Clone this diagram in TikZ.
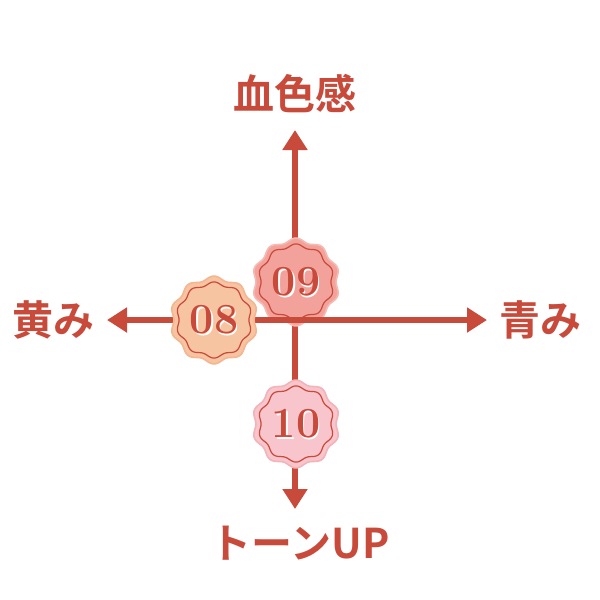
\documentclass[tikz,border=0pt]{standalone}
\usepackage{fontspec}
\newfontfamily\cjk{Noto Sans CJK JP Bold}
\usetikzlibrary{arrows.meta}
\definecolor{axred}{HTML}{C84A3B}
\definecolor{fnine}{HTML}{F2A29A}
\definecolor{rnine}{HTML}{F6BAB3}
\definecolor{feight}{HTML}{F7C4A1}
\definecolor{reight}{HTML}{F3B690}
\definecolor{ften}{HTML}{F7C5CB}
\definecolor{rten}{HTML}{F2B3BB}
\tikzset{
  axis/.style={line width=2.6pt, color=axred, -{Triangle[width=12pt,length=10pt]}},
  lbl/.style={text=axred, font=\cjk\fontsize{20.5}{20.5}\selectfont, inner sep=0pt},
  num/.style={font=\bfseries\fontsize{21.5}{21.5}\selectfont, inner sep=0pt},
}
\newcommand{\badge}[5]{% name, cx, cy, fill, rim
  \filldraw[fill=#4, draw=#5, line width=0.8pt] plot[domain=0:360, samples=241, smooth cycle] ({#2+(42-1.9*cos(10*\x))*cos(\x)},{#3+(42-1.9*cos(10*\x))*sin(\x)});
  \draw[axred, line width=0.6pt] plot[domain=0:360, samples=241, smooth cycle] ({#2+(36.5-1.6*cos(10*\x))*cos(\x)},{#3+(36.5-1.6*cos(10*\x))*sin(\x)});
  \node[num, text=white] at (#2+1.5,#3+1.8) {#1};
  \node[num, text=axred] (b#1) at (#2,#3) {#1};
}
\begin{document}
\begin{tikzpicture}[x=0.5pt, y=-0.5pt]
\useasboundingbox (0,0) rectangle (600,600);
\coordinate (c) at (295,320);
\coordinate (top) at (295,130);
\coordinate (bot) at (295,509);
\coordinate (lft) at (107,320);
\coordinate (rgt) at (487,320);
\draw[axis] (295,322) -- (top);
\draw[axis] (295,318) -- (bot);
\badge{09}{296}{282}{fnine}{rnine}
\draw[axis] (293,320) -- (rgt);
\draw[axis] (297,320) -- (lft);
\badge{08}{214}{320}{feight}{reight}
\badge{10}{296}{424}{ften}{rten}
\node[lbl] (t1) at (295,94) {血色感};
\node[lbl] (t2) at (53,320) {黄み};
\node[lbl] (t3) at (540,320) {青み};
\node[lbl] (t4) at (300,543) {トーンUP};
\end{tikzpicture}
\end{document}
